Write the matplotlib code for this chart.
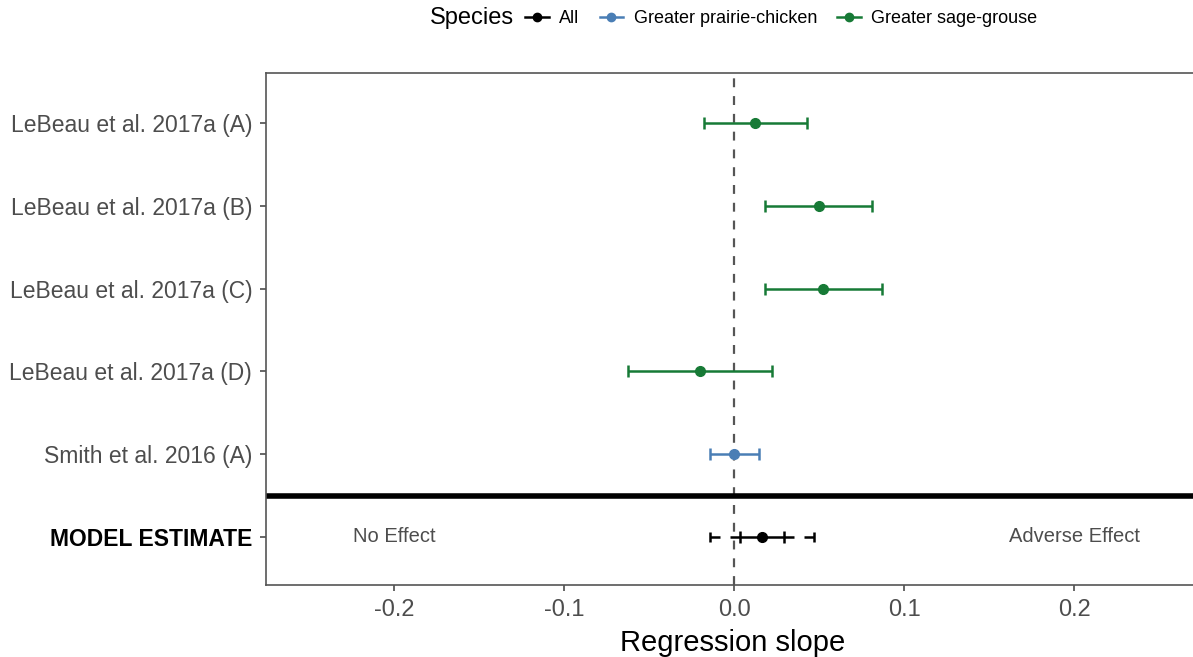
import matplotlib
matplotlib.use("Agg")
import matplotlib.pyplot as plt
from matplotlib.lines import Line2D
from matplotlib.offsetbox import HPacker

plt.rcParams["font.family"] = ["Liberation Sans", "DejaVu Sans"]

# ==== Data ====
studies = ["LeBeau et al. 2017a (A)", "LeBeau et al. 2017a (B)",
           "LeBeau et al. 2017a (C)", "LeBeau et al. 2017a (D)",
           "Smith et al. 2016 (A)"]
species = ["Greater sage-grouse", "Greater sage-grouse", "Greater sage-grouse",
           "Greater sage-grouse", "Greater prairie-chicken"]
slope = [0.0124, 0.050, 0.052, -0.020, 0.0]
ci_low = [-0.0176, 0.018, 0.018, -0.0624, -0.014]
ci_high = [0.043, 0.081, 0.087, 0.022, 0.0147]

model_label = "MODEL ESTIMATE"
model_slope = 0.0165
model_ci = [0.0035, 0.029]
model_pi = [-0.014, 0.047]

legend_keys = ["All", "Greater prairie-chicken", "Greater sage-grouse"]
colors = {"All": "#000000",
          "Greater prairie-chicken": "#4A7EB5",
          "Greater sage-grouse": "#177A36"}

# ==== Figure ====
fig = plt.figure(figsize=(11.93, 6.57), dpi=100)
ax = fig.add_axes([0.223, 0.1096, 0.783, 0.779])

n = len(studies)
ypos = list(range(n + 1, 1, -1))  # studies from top down, model at y=1

for y, s, lo, hi, sp in zip(ypos, slope, ci_low, ci_high, species):
    c = colors[sp]
    ax.errorbar(s, y, xerr=[[s - lo], [hi - s]], fmt="o", color=c,
                ecolor=c, elinewidth=1.8, capsize=4, capthick=1.8,
                markersize=7, zorder=3)

# model estimate: dashed outer interval, each piece dashed from its outer end
for outer, inner in [(model_pi[0], model_ci[0]), (model_pi[1], model_ci[1])]:
    ax.plot([outer, inner], [1, 1], color="black", lw=1.8,
            ls=(0, (4, 4)), zorder=2)
ax.errorbar(model_pi, [1, 1], fmt="none", yerr=0.06, ecolor="black",
            elinewidth=1.8, zorder=2)
ax.errorbar(model_slope, 1, xerr=[[model_slope - model_ci[0]], [model_ci[1] - model_slope]],
            fmt="o", color="black", ecolor="black", elinewidth=1.8,
            capsize=4, capthick=1.8, markersize=7, zorder=3)

ax.axvline(0, color="#555555", ls=(0, (4, 4)), lw=1.6, zorder=1)
ax.axhline(1.5, color="black", lw=4, zorder=2)

ax.text(-0.2, 1, "No Effect", ha="center", va="center", fontsize=14.5, color="#4D4D4D")
ax.text(0.2, 1, "Adverse Effect", ha="center", va="center", fontsize=14.5, color="#4D4D4D")

ax.set_xlim(-0.2753, 0.274)
ax.set_ylim(0.42, 6.6)
ax.set_xticks([-0.2, -0.1, 0.0, 0.1, 0.2])
ax.set_xticklabels(["-0.2", "-0.1", "0.0", "0.1", "0.2"])
ax.set_yticks([1] + ypos)
ax.set_yticklabels([model_label] + studies)
ax.tick_params(axis="x", labelsize=17, colors="#4D4D4D", length=4, width=1.2, pad=6)
ax.tick_params(axis="y", labelsize=16.5, colors="#4D4D4D", length=4, width=1.2, pad=6)
ylabels = ax.get_yticklabels()
ylabels[0].set_fontweight("bold")
ylabels[0].set_color("black")
for lab in ax.get_xticklabels() + ax.get_yticklabels()[1:]:
    lab.set_color("#4D4D4D")
ax.set_xlabel("Regression slope", fontsize=21, labelpad=6)
for sp_ in ax.spines.values():
    sp_.set_color("#555555")
    sp_.set_linewidth(1.2)

# ==== Legend ====
handles = [Line2D([], [], color=colors[k], marker="o", markersize=6, lw=1.8)
           for k in legend_keys]
leg = fig.legend(handles, legend_keys,
                 loc="center", bbox_to_anchor=(0.615, 0.972), ncol=3, frameon=False,
                 fontsize=13, handlelength=1.3, handletextpad=0.6, columnspacing=1.1,
                 title="Species", title_fontsize=17)
# put the title inline on the left
leg._legend_box._children = [HPacker(pad=0, sep=8, align="center",
                                     children=[leg._legend_title_box,
                                               leg._legend_handle_box])]

fig.savefig("out.png", dpi=100)
